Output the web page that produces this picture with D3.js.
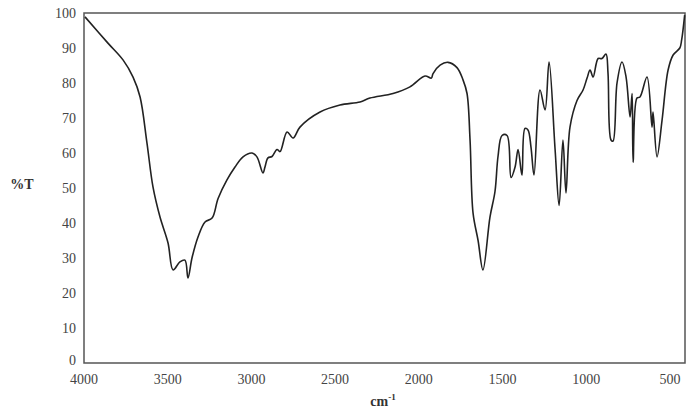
<!DOCTYPE html>
<html><head><meta charset="utf-8">
<script src="https://cdn.jsdelivr.net/npm/d3@7"></script>
<style>body{margin:0;background:#fff}</style></head>
<body><svg id="c" width="689" height="415"></svg>
<script>
const wavenumber = [3994,3857,3767,3707,3665,3624,3588,3546,3498,3468,3427,3397,3379,3355,3319,3277,3235,3199,3146,3098,3050,2996,2967,2931,2919,2901,2877,2847,2829,2787,2751,2710,2590,2471,2351,2292,2154,2053,1963,1925,1915,1873,1826,1772,1736,1712,1694,1676,1646,1617,1575,1545,1527,1503,1473,1449,1425,1407,1384,1366,1348,1330,1312,1276,1246,1222,1186,1162,1139,1121,1097,1055,1019,995,977,959,929,906,882,870,852,840,816,786,762,738,726,720,697,679,637,607,601,577,547,511,481,441,430,412];
const transmittance = [98.9,91.4,86.6,81.7,76,62.9,50.3,41.7,34.3,26.6,28.9,29.4,24.3,30,36,40.3,41.4,47,52.3,56,58.9,60,58.9,54.3,56,58.6,59,61,60.4,66,64.3,67.4,71.7,73.7,74.6,75.7,77,78.9,82,81.4,82.7,85.1,85.9,84.4,80.9,77,63.7,42.8,35,26.6,41.7,49,59,65,65,53,56,61,53.7,67,66.6,61.7,53.7,78,72.3,86,61,45,63.7,48.6,67.4,75,78,81.4,83.7,81.7,87,87,88.3,82.9,63.7,63.4,80,86,81.7,70.3,77,57.4,75.7,76,81.7,67.4,71.7,58.9,69.4,83.7,88,90,92.3,99.4];
const xTicks = [4000,3500,3000,2500,2000,1500,1000,500];
const yTicks = [0,10,20,30,40,50,60,70,80,90,100];

const svg = d3.select("#c");
const L=84,R=685,T=13,B=363;
const x = d3.scaleLinear().domain([4000,410]).range([L,R]);
const y = d3.scaleLinear().domain([0,100]).range([B,T]);
const font = "'Liberation Serif', 'Times New Roman', serif";

svg.append("rect").attr("x",L).attr("y",T).attr("width",R-L).attr("height",B-T)
  .attr("fill","none").attr("stroke","#555").attr("stroke-width",1.5);

svg.append("g").selectAll("text").data(yTicks).join("text")
  .attr("x",L-8).attr("y",d=>y(d)+(d===0?2:5)).attr("text-anchor","end")
  .attr("font-family",font).attr("font-size",14).attr("fill","#444").text(d=>d);
svg.append("g").selectAll("text").data(xTicks).join("text")
  .attr("x",d=>x(d)).attr("y",B+21).attr("text-anchor","middle")
  .attr("font-family",font).attr("font-size",14).attr("fill","#444").text(d=>d);

svg.append("text").attr("x",22).attr("y",189).attr("text-anchor","middle")
  .attr("font-family",font).attr("font-size",14).attr("font-weight","bold").attr("fill","#333").text("%T");
const xl = svg.append("text").attr("x",383).attr("y",406).attr("text-anchor","middle")
  .attr("font-family",font).attr("font-size",14).attr("font-weight","bold").attr("fill","#333");
xl.append("tspan").text("cm");
xl.append("tspan").attr("dy",-6).attr("font-size",9).text("-1");

const pts = wavenumber.map((w,i)=>[w,transmittance[i]]);
svg.append("path").datum(pts)
  .attr("d",d3.line().x(d=>x(d[0])).y(d=>y(d[1])).curve(d3.curveCatmullRom.alpha(0.5)))
  .attr("fill","none").attr("stroke","#222").attr("stroke-width",1.6).attr("stroke-linejoin","round");
</script></body></html>
